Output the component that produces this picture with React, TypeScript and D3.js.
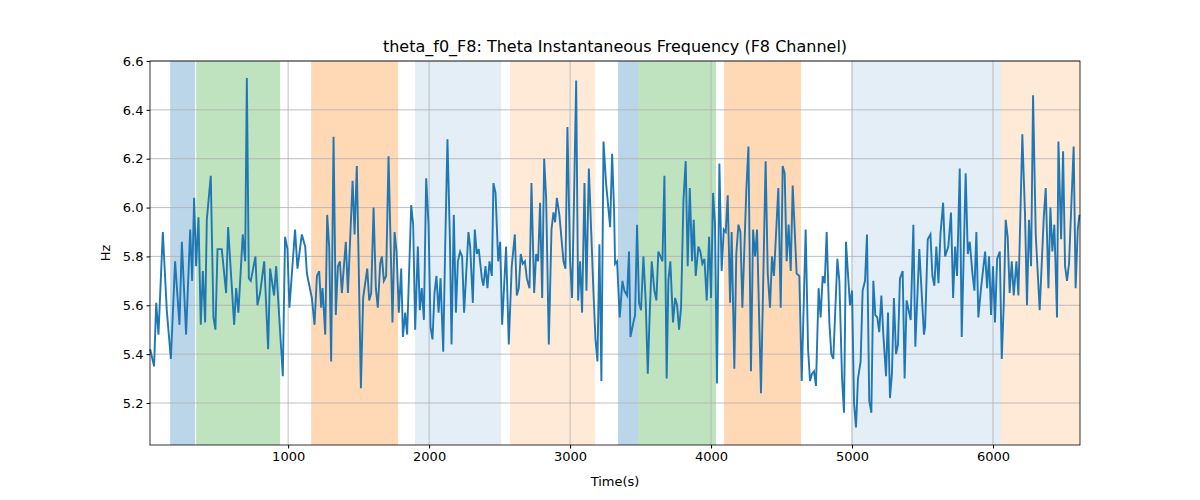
import { useEffect, useRef } from "react";
import * as d3 from "d3";

// time (s) and instantaneous frequency (Hz)
const times: number[] = [
  21, 49, 64, 80, 111, 139, 168, 198, 229, 246, 276, 305, 319, 333, 347, 364, 380, 395, 411, 423, 451, 470, 484, 499,
  529, 560, 574, 617, 631, 647, 678, 695, 707, 721, 735, 768, 782, 801, 830, 858, 872, 900, 915, 962, 978, 995, 1009,
  1049, 1066, 1097,
  1121, 1133, 1168, 1187, 1204, 1220, 1234, 1244, 1263, 1277, 1291, 1305, 1322, 1338, 1353, 1367, 1381, 1409, 1424,
  1457, 1471, 1487, 1499, 1516, 1532, 1561, 1575, 1589, 1606, 1622, 1636, 1653, 1665, 1679, 1695, 1712, 1740, 1755,
  1769, 1785, 1802, 1814, 1830, 1844, 1873, 1887, 1901, 1920, 1934, 1948, 1963, 1979, 1996, 2010, 2024, 2038, 2052,
  2067, 2081, 2100, 2114, 2130, 2147, 2159, 2175, 2190, 2204,
  2220, 2234, 2248, 2279, 2291, 2310, 2324, 2338, 2352, 2374, 2385, 2400, 2414, 2428, 2445, 2456, 2471, 2490, 2504,
  2518, 2546, 2565, 2586, 2608, 2622, 2636, 2650, 2664, 2679, 2693, 2712, 2726, 2745, 2759, 2773, 2787, 2802, 2816,
  2830, 2849, 2868, 2882, 2894, 2906, 2924, 2953, 2967, 2981, 3000, 3014, 3028, 3043, 3057, 3071, 3085, 3102, 3116,
  3133, 3166, 3180, 3194, 3208, 3222, 3237, 3255, 3284, 3298, 3312,
  3319, 3333, 3352, 3371, 3385, 3404, 3418, 3428, 3449, 3461, 3475, 3489, 3503, 3520, 3536, 3551, 3565, 3579, 3598,
  3612, 3626, 3641, 3655, 3669, 3685, 3697, 3711, 3730, 3745, 3759, 3773, 3787, 3804, 3820, 3834, 3849, 3865, 3877,
  3891, 3910, 3924, 3938, 3953, 3969, 3986, 4000, 4014, 4028, 4042, 4059, 4075, 4090, 4104, 4118, 4135, 4146, 4165,
  4179, 4194, 4208, 4222, 4250, 4265, 4283, 4298, 4312, 4326, 4354, 4387, 4402,
  4418, 4432, 4446, 4477, 4494, 4508, 4522, 4536, 4550, 4565, 4579, 4607, 4626, 4643, 4671, 4688, 4702, 4716, 4730,
  4744, 4763, 4777, 4792, 4806, 4820, 4839, 4853, 4867, 4896, 4910, 4929, 4943, 4957, 4971, 4985, 5000, 5014, 5028,
  5042, 5061, 5075, 5092, 5106, 5122, 5137, 5151, 5165, 5179, 5193, 5208, 5222, 5241, 5255, 5269, 5283, 5297, 5312,
  5326, 5340, 5359, 5373, 5387, 5416, 5435, 5449, 5477, 5510,
  5518, 5537, 5556, 5570, 5584, 5598, 5613, 5627, 5646, 5660, 5683, 5702, 5717, 5731, 5745, 5764, 5778, 5806, 5821,
  5835, 5854, 5868, 5882, 5896, 5915, 5944, 5958, 5972, 5986, 6000, 6014, 6029, 6048, 6062, 6076, 6090, 6104, 6118,
  6133, 6147, 6166, 6180, 6208, 6227, 6241, 6255, 6270, 6284, 6303, 6331, 6360, 6374, 6393, 6407, 6421, 6435, 6454,
  6464, 6483, 6497, 6511, 6525, 6539, 6572, 6586, 6601, 6613,
];
const freqs: number[] = [
  5.42, 5.35, 5.61, 5.48, 5.9, 5.58, 5.38, 5.78, 5.52, 5.86, 5.48, 5.91, 5.7, 6.04, 5.76, 5.96, 5.52, 5.74, 5.53, 5.95,
  6.13, 5.55, 5.5, 5.83, 5.83, 5.65, 5.92, 5.52, 5.67, 5.57, 5.89, 5.78, 6.53, 5.71, 5.7, 5.8, 5.6, 5.65, 5.78, 5.42,
  5.75, 5.64, 5.76, 5.31, 5.88, 5.83, 5.59, 5.91, 5.75, 5.89,
  5.84, 5.73, 5.63, 5.52, 5.72, 5.74, 5.59, 5.67, 5.48, 5.97, 5.84, 5.37, 6.29, 5.56, 5.76, 5.78, 5.65, 5.86, 5.65,
  6.11, 5.89, 6.17, 5.81, 5.26, 5.63, 5.75, 5.62, 5.65, 6.0, 5.67, 5.59, 5.77, 5.8, 5.7, 5.72, 6.21, 5.53, 5.9, 5.82,
  5.57, 5.75, 5.47, 5.57, 5.48, 6.01, 5.93, 5.5, 5.84, 5.58, 5.67, 5.54, 6.12, 5.93, 5.51, 5.46, 5.65, 5.72, 5.57, 5.71,
  5.41, 5.84, 6.28, 5.88, 5.44, 5.97, 5.57, 5.78,
  5.82, 5.8, 5.57, 5.9, 5.84, 5.61, 5.91, 5.81, 5.83, 5.71, 5.68, 5.76, 5.67, 5.78, 5.72, 6.1, 6.06, 5.78, 5.86, 5.52,
  5.84, 5.44, 5.76, 5.89, 5.64, 5.67, 5.81, 5.77, 5.78, 5.71, 5.67, 6.1, 5.65, 5.81, 5.78, 6.02, 5.63, 6.2, 6.04, 5.44,
  5.91, 5.98, 5.94, 6.04, 5.97, 5.78, 5.75, 6.33, 5.78, 5.63, 6.04, 6.52, 5.62, 5.78, 5.57, 6.1, 5.66, 6.16, 5.65, 5.46,
  5.37, 5.85, 5.29, 6.27, 6.1, 5.92, 6.22, 5.99,
  5.77, 5.78, 5.55, 5.7, 5.66, 5.64, 5.82, 5.47, 5.53, 5.56, 5.93, 5.61, 5.58, 5.8, 5.62, 5.32, 5.57, 5.78, 5.66, 5.62,
  5.82, 5.8, 5.78, 6.13, 5.3, 5.7, 5.78, 5.53, 5.63, 5.6, 5.5, 5.59, 6.03, 6.19, 5.76, 6.08, 5.78, 5.95, 5.72, 5.84,
  5.82, 5.77, 5.79, 5.62, 5.88, 5.63, 6.06, 5.93, 5.28, 6.18, 5.74, 5.91, 5.9, 6.05, 5.61, 5.9, 5.34, 5.81, 5.93, 5.9,
  5.59, 6.07, 6.25, 5.33, 5.91, 5.8, 5.91, 5.24, 6.19, 5.73,
  5.59, 5.8, 5.72, 6.08, 5.59, 6.17, 6.14, 5.78, 5.93, 5.74, 6.09, 5.73, 5.72, 5.29, 5.91, 5.42, 5.29, 5.32, 5.33, 5.27,
  5.67, 5.55, 5.72, 5.69, 5.9, 5.53, 5.4, 5.38, 5.79, 5.7, 5.3, 5.16, 5.86, 5.73, 5.6, 5.66, 5.2, 5.1, 5.3, 5.37, 5.66,
  5.7, 5.89, 5.21, 5.16, 5.7, 5.56, 5.55, 5.49, 5.64, 5.48, 5.31, 5.57, 5.22, 5.32, 5.63, 5.4, 5.44, 5.71, 5.74, 5.3,
  5.62, 5.54, 5.93, 5.43, 5.83, 5.48,
  5.51, 5.87, 5.89, 5.72, 5.68, 5.84, 5.69, 5.89, 6.02, 5.8, 5.84, 5.98, 5.63, 5.84, 5.72, 6.16, 5.47, 6.14, 5.81, 5.86,
  5.73, 5.66, 5.9, 5.55, 5.67, 5.82, 5.67, 5.8, 5.56, 5.76, 5.53, 5.79, 5.82, 5.38, 5.6, 5.95, 5.88, 5.65, 5.78, 5.64,
  5.78, 5.64, 6.3, 5.97, 5.6, 5.95, 5.76, 6.46, 5.89, 5.58, 5.96, 6.08, 5.67, 6.0, 5.82, 5.93, 5.55, 6.27, 5.87, 6.23,
  5.76, 5.7, 5.77, 6.25, 5.67, 5.91, 5.97,
];

// shaded intervals
const spanStart: number[] = [163, 348, 1163, 1900, 2574, 3340, 3482, 4092, 4993, 6057];
const spanEnd: number[] = [340, 943, 1780, 2511, 3177, 3482, 4035, 4638, 6057, 6617];
const spanColor: string[] = ["#1f77b4", "#2ca02c", "#ff7f0e", "#1f77b4", "#ff7f0e", "#1f77b4", "#2ca02c", "#ff7f0e", "#1f77b4", "#ff7f0e"];
const spanAlpha: number[] = [0.3, 0.3, 0.3, 0.12, 0.16, 0.3, 0.3, 0.3, 0.12, 0.16];

const xTicks: number[] = [1000, 2000, 3000, 4000, 5000, 6000];
const yTicks: number[] = [5.2, 5.4, 5.6, 5.8, 6.0, 6.2, 6.4, 6.6];

export default function App() {
  const ref = useRef<SVGSVGElement>(null);

  useEffect(() => {
    if (!ref.current) return;
    const svg = d3.select(ref.current);
    svg.selectAll("*").remove();
    const margin = { top: 61, right: 120, bottom: 55, left: 150 };
    const width = 1200;
    const height = 500;

    const x = d3.scaleLinear().domain([20, 6617]).range([margin.left, width - margin.right]);
    const y = d3.scaleLinear().domain([5.028, 6.6]).range([height - margin.bottom, margin.top]);

    const g = svg.append("g");
    spanStart.forEach((s, i) => {
      g.append("rect")
        .attr("x", x(s))
        .attr("y", margin.top)
        .attr("width", x(spanEnd[i]) - x(s))
        .attr("height", height - margin.bottom - margin.top)
        .attr("fill", spanColor[i])
        .attr("fill-opacity", spanAlpha[i]);
    });

    const grid = svg.append("g").attr("stroke", "#b0b0b0").attr("stroke-width", 0.8);
    xTicks.forEach(t => {
      grid.append("line").attr("x1", x(t)).attr("x2", x(t)).attr("y1", margin.top).attr("y2", height - margin.bottom);
    });
    yTicks.forEach(t => {
      grid.append("line").attr("x1", margin.left).attr("x2", width - margin.right).attr("y1", y(t)).attr("y2", y(t));
    });

    const line = d3
      .line<number>()
      .x((d, i) => x(times[i]))
      .y(d => y(d));
    svg.append("path").datum(freqs).attr("d", line).attr("fill", "none").attr("stroke", "#1f77b4").attr("stroke-width", 1.9);

    const xAxis = svg
      .append("g")
      .attr("transform", `translate(0,${height - margin.bottom})`)
      .call(d3.axisBottom(x).tickValues(xTicks).tickFormat(d3.format("d")).tickSizeOuter(0).tickSize(3.5));
    const yAxis = svg
      .append("g")
      .attr("transform", `translate(${margin.left},0)`)
      .call(d3.axisLeft(y).tickValues(yTicks).tickFormat(d3.format(".1f")).tickSizeOuter(0).tickSize(3.5));
    [xAxis, yAxis].forEach(a => {
      a.select(".domain").remove();
      a.selectAll("text").attr("font-family", "DejaVu Sans").attr("font-size", 13).attr("fill", "#000");
      a.selectAll("line").attr("stroke", "#000");
    });

    svg
      .append("rect")
      .attr("x", margin.left)
      .attr("y", margin.top)
      .attr("width", width - margin.left - margin.right)
      .attr("height", height - margin.top - margin.bottom)
      .attr("fill", "none")
      .attr("stroke", "#000")
      .attr("stroke-width", 0.8);

    svg
      .append("text")
      .attr("x", (margin.left + width - margin.right) / 2)
      .attr("y", 52)
      .attr("text-anchor", "middle")
      .attr("font-family", "DejaVu Sans")
      .attr("font-size", 16)
      .text("theta_f0_F8: Theta Instantaneous Frequency (F8 Channel)");
    svg
      .append("text")
      .attr("x", (margin.left + width - margin.right) / 2)
      .attr("y", 486)
      .attr("text-anchor", "middle")
      .attr("font-family", "DejaVu Sans")
      .attr("font-size", 13)
      .text("Time(s)");
    svg
      .append("text")
      .attr("transform", `translate(110,${(margin.top + height - margin.bottom) / 2}) rotate(-90)`)
      .attr("text-anchor", "middle")
      .attr("font-family", "DejaVu Sans")
      .attr("font-size", 13)
      .text("Hz");
  }, []);

  return (
    <svg
      ref={ref}
      width={1200}
      height={500}
      style={{ position: "absolute", left: 0, top: 0, background: "#fff" }}
    />
  );
}
